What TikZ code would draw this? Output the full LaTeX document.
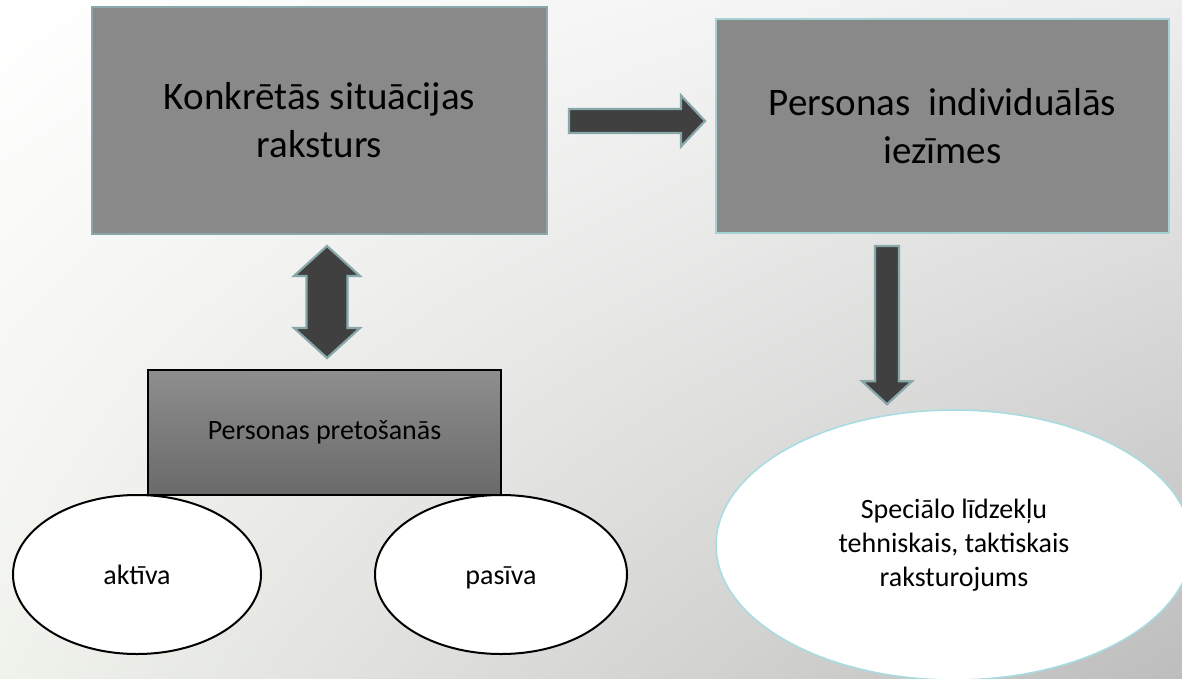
\documentclass[tikz,border=0pt]{standalone}
\usepackage{fontspec}
\setmainfont{Carlito}
\usetikzlibrary{calc,shapes.geometric,shadings}
\definecolor{boxgray}{HTML}{898989}
\definecolor{boxedgeA}{HTML}{8AA8AB}
\definecolor{boxedgeB}{HTML}{A6D2D5}
\definecolor{arrowfill}{HTML}{404040}
\definecolor{arrowedge}{HTML}{88A7A9}
\definecolor{ovaledge}{HTML}{A8DCE0}
\definecolor{ctop}{HTML}{8E8E8E}
\definecolor{cbot}{HTML}{6A6A6A}
\definecolor{bgUR}{HTML}{EEEEEE}
\definecolor{bgLL}{HTML}{F0F2EC}
\definecolor{bgLR}{HTML}{BDBDBD}
\tikzset{
  bigbox/.style={rectangle, fill=boxgray, line width=2pt, inner sep=0pt, align=center,
    font=\fontsize{39}{48}\selectfont},
  resistbox/.style={rectangle, draw=black, line width=2pt, top color=ctop, bottom color=cbot,
    inner sep=0pt, align=center, font=\fontsize{28}{34}\selectfont},
  whiteoval/.style={ellipse, fill=white, draw=black, line width=2pt, inner sep=0pt,
    align=center, text height=20pt, text depth=0pt, font=\fontsize{28}{34}\selectfont},
  bigoval/.style={ellipse, fill=white, draw=ovaledge, line width=1.6pt, inner sep=0pt,
    align=center, font=\fontsize{28}{34}\selectfont},
  blockarrow/.style={fill=arrowfill, draw=arrowedge, line width=2.2pt, line join=miter}
}
% single block arrow: start, end, half shaft, half head, head length
\newcommand{\BlkArrowOne}[5]{%
  \coordinate (tmpH) at ($(#2)!#5!(#1)$);
  \draw[blockarrow] ($(#1)!#3!90:(#2)$) -- ($(tmpH)!#3!90:(#2)$) -- ($(tmpH)!#4!90:(#2)$)
    -- (#2) -- ($(tmpH)!#4!-90:(#2)$) -- ($(tmpH)!#3!-90:(#2)$) -- ($(#1)!#3!-90:(#2)$) -- cycle;
}
% double block arrow: start, end, half shaft, half head, head length
\newcommand{\BlkArrowTwo}[5]{%
  \coordinate (tmpHa) at ($(#1)!#5!(#2)$);
  \coordinate (tmpHb) at ($(#2)!#5!(#1)$);
  \draw[blockarrow] (#1) -- ($(tmpHa)!#4!90:(#2)$) -- ($(tmpHa)!#3!90:(#2)$)
    -- ($(tmpHb)!#3!90:(#2)$) -- ($(tmpHb)!#4!90:(#2)$) -- (#2)
    -- ($(tmpHb)!#4!-90:(#2)$) -- ($(tmpHb)!#3!-90:(#2)$)
    -- ($(tmpHa)!#3!-90:(#2)$) -- ($(tmpHa)!#4!-90:(#2)$) -- cycle;
}
\begin{document}
\begin{tikzpicture}[x=1pt,y=-1pt]
\useasboundingbox (0,0) rectangle (1182,679);
\clip (0,0) rectangle (1182,679);
\shade[upper left=white, upper right=bgUR, lower left=bgLL, lower right=bgLR]
  (0,0) rectangle (1182,679);

\node[bigbox, draw=boxedgeA, minimum width=455pt, minimum height=227pt] (A) at (319.5,120.5)
  {Konkrētās situācijas\\raksturs};
\node[bigbox, draw=boxedgeB, minimum width=453pt, minimum height=214pt] (B) at (942.5,126)
  {Personas\ \ individuālās\\iezīmes};
\node[resistbox, minimum width=353pt, minimum height=125pt] (C) at (324.5,432.5)
  {Personas pretošanās};
\node[whiteoval, minimum width=248pt, minimum height=159pt] (E1) at (137,574.5) {aktīva};
\node[whiteoval, minimum width=252pt, minimum height=159pt] (E2) at (501,574.5) {pasīva};
\node[bigoval, minimum width=476pt, minimum height=270pt] (E3) at (954,545)
  {Speciālo līdzekļu\\tehniskais, taktiskais\\raksturojums};

% arrow A -> B
\coordinate (r1) at ($(A.east)+(21,0.5)$);
\coordinate (r2) at ($(r1 -| B.west)+(-10,0)$);
\BlkArrowOne{r1}{r2}{12pt}{25.5pt}{24pt}
% double arrow A <-> C
\coordinate (d1) at ($(A.south)+(7.5,11)$);
\coordinate (d2) at ($(C.north)+(2.5,-11)$);
\BlkArrowTwo{d1}{d2}{20.5pt}{33pt}{30pt}
% arrow B -> E3
\coordinate (n1) at ($(B.south)+(-55.5,12)$);
\coordinate (n2) at ($(n1 |- E3.north)+(0,-5)$);
\BlkArrowOne{n1}{n2}{12pt}{25pt}{23pt}
\end{tikzpicture}
\end{document}
